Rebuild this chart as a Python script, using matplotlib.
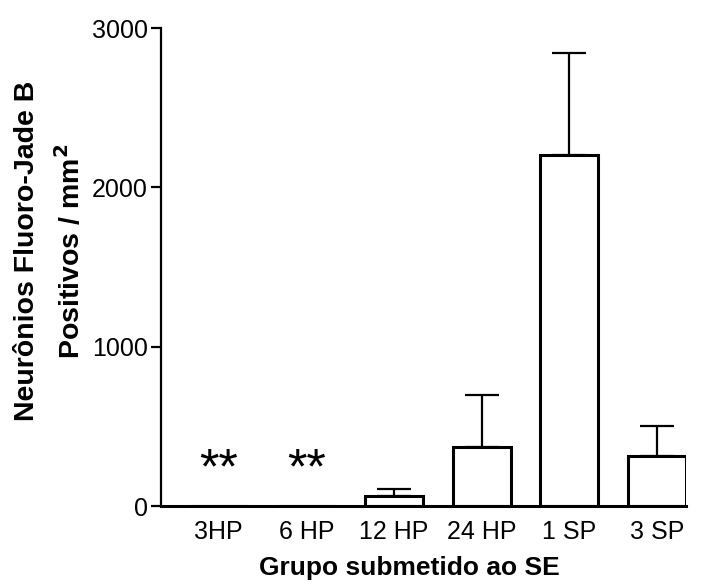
import numpy as np
import matplotlib
matplotlib.use("Agg")
from matplotlib import pyplot as plt

plt.rcParams['font.family'] = ['Liberation Sans', 'DejaVu Sans']

groups = ['3HP', '6 HP', '12 HP', '24 HP', '1 SP', '3 SP']
means = [0, 0, 63, 372, 2203, 316]
sem = [0, 0, 44, 323, 640, 188]
marks = ['**', '**', '', '', '', '']
mark_y = 140

fig = plt.figure(figsize=(7.07, 5.85), dpi=100)
ax = fig.add_axes([0.2277, 0.135, 0.7423, 0.817])

x = np.arange(len(groups))
ax.bar(x, means, width=0.66, color='white', edgecolor='black', linewidth=2.2, zorder=2)
for xi, m, e in zip(x, means, sem):
    if e > 0:
        ax.errorbar(xi, m, yerr=[[0], [e]], fmt='none', ecolor='black',
                    elinewidth=1.6, capsize=12, capthick=1.6, zorder=1)
for xi, s in zip(x, marks):
    if s:
        ax.text(xi, mark_y, s, ha='center', va='baseline', fontsize=36)

ax.set_xlim(-0.66, 5.33)
ax.set_ylim(0, 3000)
ax.set_yticks([0, 1000, 2000, 3000])
ax.set_xticks(x)
ax.set_xticklabels(groups)
ax.tick_params(axis='x', length=0, pad=10, labelsize=18)
ax.tick_params(axis='y', length=7.5, width=1.6, pad=2, labelsize=18)

for side in ['top', 'right']:
    ax.spines[side].set_visible(False)
ax.spines['left'].set_linewidth(1.6)
ax.spines['bottom'].set_linewidth(2.2)

ax.set_ylabel('Neurônios Fluoro-Jade B\nPositivos / mm$^\\mathbf{2}$', fontsize=20.5,
              fontweight='bold', linespacing=1.6)
ax.yaxis.set_label_coords(-0.143, 0.533)
ax.set_xlabel('Grupo submetido ao SE', fontsize=19, fontweight='bold')
ax.xaxis.set_label_coords(0.474, -0.105)

fig.savefig('out.png', dpi=100)
